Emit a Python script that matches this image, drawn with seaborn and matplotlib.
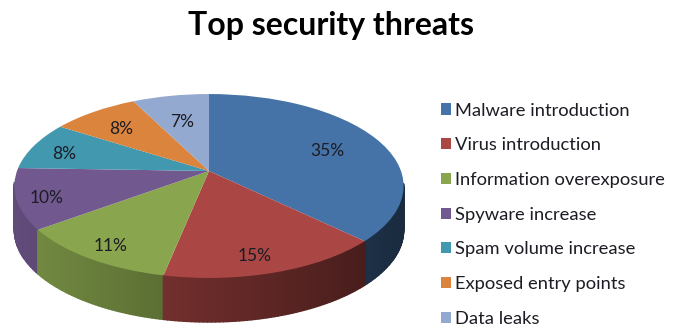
import numpy as np
import matplotlib
matplotlib.use("Agg")
import matplotlib.pyplot as plt
import matplotlib.transforms as mtransforms
from matplotlib.collections import PolyCollection
import seaborn as sns

categories = ["Malware introduction", "Virus introduction", "Information overexposure",
              "Spyware increase", "Spam volume increase", "Exposed entry points", "Data leaks"]
shares = [35, 15, 11, 10, 8, 8, 7]
slice_colors = ["#4572A7", "#AA4643", "#89A54E", "#71588F", "#4198AF", "#DB843D", "#93A9CF"]
label_radii = [0.70, 0.82, 0.84, 0.85, 0.82, 0.74, 0.66]
label_turns = [0, 2.5, 0, 0, 0, 0, 0]

sns.set_theme(style="white")
plt.rcParams["font.family"] = ["Lato", "DejaVu Sans"]
palette = sns.color_palette(slice_colors)

# Tilted-disc geometry, in figure pixels
CX, CY, RX, RY, TILT, DEPTH = 209.0, 171.0, 192.0, 89.5, 0.163, 44.0


class DiscProjection(mtransforms.Transform):
    """Perspective view of the unit disc, output in pixel-like data units."""
    input_dims = 2
    output_dims = 2
    is_separable = False
    has_inverse = False

    def transform_non_affine(self, values):
        values = np.asarray(values, dtype=float)
        w = 1.0 + TILT * values[:, 1]
        return np.column_stack([CX + RX * values[:, 0] / w, CY - RY * values[:, 1] / w])


projection = DiscProjection()

fig = plt.figure(figsize=(6.76, 3.27), dpi=100)
ax = fig.add_axes([0, 0, 1, 1])

wedges, _ = ax.pie(shares, colors=palette, startangle=90, counterclock=False, radius=1.0)
ax.set_aspect("auto")
ax.set_xlim(0, 676)
ax.set_ylim(327, 0)
ax.axis("off")

# Side wall: thin strips along the front of each slice's rim, darker towards the right
fractions = np.cumsum([0] + shares) / sum(shares)
quads, quad_colors, quad_depths = [], [], []
for i, color in enumerate(palette):
    start, stop = fractions[i] * 2 * np.pi, fractions[i + 1] * 2 * np.pi
    steps = max(2, int(np.degrees(stop - start)))
    angles = np.linspace(start, stop, steps + 1)
    rim = projection.transform_non_affine(np.column_stack([np.sin(angles), np.cos(angles)]))
    for j in range(steps):
        a, b = rim[j], rim[j + 1]
        if (a[1] + b[1]) / 2 < CY + 12:
            continue
        quads.append([a, b, b + [0, DEPTH], a + [0, DEPTH]])
        shade = np.interp((a[0] + b[0]) / 2, [20, 400], [0.85, 0.38])
        quad_colors.append(tuple(c * shade for c in color))
        quad_depths.append((a[1] + b[1]) / 2)
order = np.argsort(quad_depths)
wall = PolyCollection([quads[k] for k in order], facecolors=[quad_colors[k] for k in order],
                      edgecolors=[quad_colors[k] for k in order], linewidths=1.1, zorder=1)
ax.add_collection(wall)

# Top face goes above the wall, bent through the projection
for wedge in wedges:
    wedge.set_transform(projection + ax.transData)
    wedge.set_zorder(2)
    wedge.set_clip_on(False)
    wedge.set_linewidth(0)

# Percent labels inside each slice
mid_fractions = (fractions[:-1] + fractions[1:]) / 2
for share, mid, r, turn in zip(shares, mid_fractions, label_radii, label_turns):
    theta = mid * 2 * np.pi + np.radians(turn)
    px, py = projection.transform_non_affine(np.array([[r * np.sin(theta), r * np.cos(theta)]]))[0]
    ax.text(px, py + 3.5, f"{share}%", ha="center", va="center", fontsize=12.5,
            color="#1c1c24", zorder=3)

ax.text(330.5, 26, "Top security threats", ha="center", va="center",
        fontsize=23, fontweight="bold", color="black")

ax.legend(wedges, categories, loc="upper left", bbox_to_anchor=(441 / 676, 1 - 102.5 / 327),
          bbox_transform=fig.transFigure, frameon=False, fontsize=13.2, ncol=1,
          handlelength=0.55, handleheight=0.55, handletextpad=0.22, labelspacing=1.02,
          labelcolor="#1c1c24", borderpad=0, borderaxespad=0)

fig.savefig("out.png", dpi=100)
